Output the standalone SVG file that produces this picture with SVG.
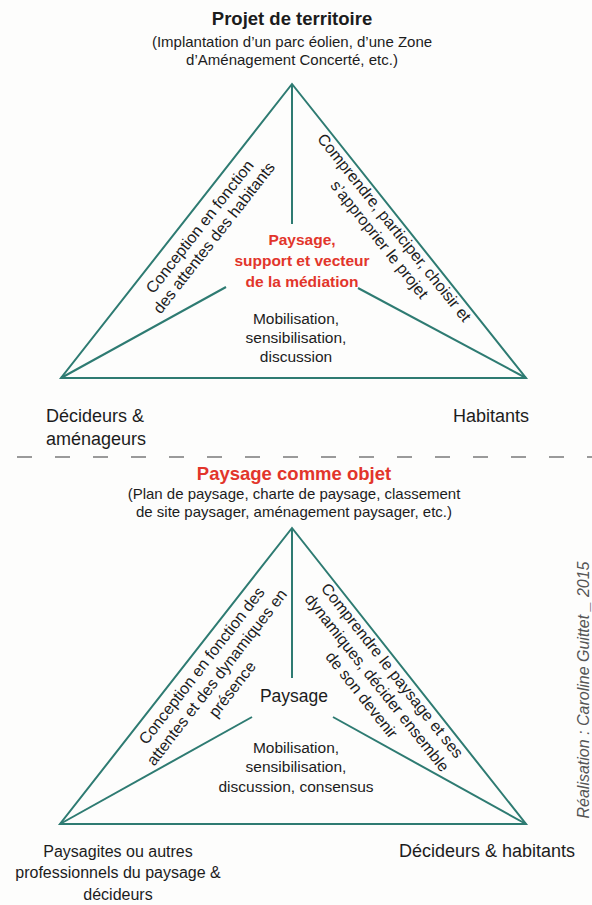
<svg xmlns="http://www.w3.org/2000/svg" width="592" height="905" viewBox="0 0 592 905">
<style>
text{font-family:"Liberation Sans",Arial,sans-serif;fill:#1c1c1c}
.c{text-anchor:middle}
.title{font-size:18.5px;font-weight:bold}
.sub{font-size:15px}
.red{fill:#e2352b;font-weight:bold;font-size:15.5px}
.mid{font-size:15.5px}
.rot{font-size:16px}
.lab{font-size:18px}
.edge{fill:none;stroke:#2e7b72;stroke-width:2;stroke-linejoin:miter}
.dash{stroke:#9a9a9a;stroke-width:2;stroke-dasharray:15 23}
</style>
<rect width="592" height="905" fill="#fdfdfc"/>

<g id="connectors">
  <polygon class="edge" points="292,84 61,378 526,378"/>
  <line class="edge" x1="292" y1="84" x2="292" y2="224"/>
  <line class="edge" x1="61" y1="378" x2="226" y2="287"/>
  <line class="edge" x1="358" y1="288" x2="526" y2="378"/>
  <polygon class="edge" points="292,528 60,824 526,824"/>
  <line class="edge" x1="292" y1="528" x2="292" y2="678"/>
  <line class="edge" x1="60" y1="824" x2="252" y2="717"/>
  <line class="edge" x1="333" y1="717" x2="526" y2="824"/>
  <line class="dash" x1="17" y1="457" x2="592" y2="457"/>
</g>

<g id="projet-territoire">
  <text class="c title" x="292" y="25">Projet de territoire</text>
  <text class="c sub" x="292" y="47">(Implantation d’un parc éolien, d’une Zone</text>
  <text class="c sub" x="292" y="65">d’Aménagement Concerté, etc.)</text>
</g>

<g id="mediation-centre">
  <text class="c red" x="302" y="245">Paysage,</text>
  <text class="c red" x="302" y="266">support et vecteur</text>
  <text class="c red" x="302" y="287">de la médiation</text>
  <text class="c mid" x="296" y="324">Mobilisation,</text>
  <text class="c mid" x="296" y="343">sensibilisation,</text>
  <text class="c mid" x="296" y="362">discussion</text>
</g>

<g id="edge-top-left" transform="translate(204,230) rotate(-52)">
  <text class="c rot" x="0" y="0">Conception en fonction</text>
  <text class="c rot" x="0" y="18">des attentes des habitants</text>
</g>

<g id="edge-top-right" transform="translate(390,231) rotate(51.4)">
  <text class="c rot" x="0" y="0">Comprendre, participer, choisir et</text>
  <text class="c rot" x="0" y="19">s’approprier le projet</text>
</g>

<g id="decideurs-amenageurs">
  <text class="lab" x="46" y="422">Décideurs &amp;</text>
  <text class="lab" x="46" y="445">aménageurs</text>
</g>

<g id="habitants">
  <text class="lab" x="453" y="422">Habitants</text>
</g>

<g id="paysage-objet">
  <text class="c title" x="294" y="480" style="fill:#e2352b">Paysage comme objet</text>
  <text class="c sub" x="294" y="499">(Plan de paysage, charte de paysage, classement</text>
  <text class="c sub" x="294" y="517">de site paysager, aménagement paysager, etc.)</text>
</g>

<g id="paysage-centre">
  <text class="c" x="294" y="702" style="font-size:17.5px">Paysage</text>
  <text class="c mid" x="296" y="753">Mobilisation,</text>
  <text class="c mid" x="296" y="772">sensibilisation,</text>
  <text class="c mid" x="296" y="792">discussion, consensus</text>
</g>

<g id="edge-bottom-left" transform="translate(206,669) rotate(-52.2)">
  <text class="c rot" x="0" y="0">Conception en fonction des</text>
  <text class="c rot" x="0" y="19">attentes et des dynamiques en</text>
  <text class="c rot" x="0" y="38.5">présence</text>
</g>

<g id="edge-bottom-right" transform="translate(388,674) rotate(51.6)">
  <text class="c rot" x="0" y="0">Comprendre le paysage et ses</text>
  <text class="c rot" x="0" y="19.5">dynamiques, décider ensemble</text>
  <text class="c rot" x="0" y="39">de son devenir</text>
</g>

<g id="paysagistes-decideurs">
  <text class="c" x="118" y="857" style="font-size:16px">Paysagites ou autres</text>
  <text class="c" x="118" y="878" style="font-size:16px">professionnels du paysage &amp;</text>
  <text class="c" x="118" y="900" style="font-size:16px">décideurs</text>
</g>

<g id="decideurs-habitants">
  <text class="lab" x="399" y="857">Décideurs &amp; habitants</text>
</g>

<g id="credit">
  <text class="c" transform="translate(589,690) rotate(-90)" style="font-size:16px;font-style:italic;fill:#555">Réalisation : Caroline Guittet _ 2015</text>
</g>
</svg>
